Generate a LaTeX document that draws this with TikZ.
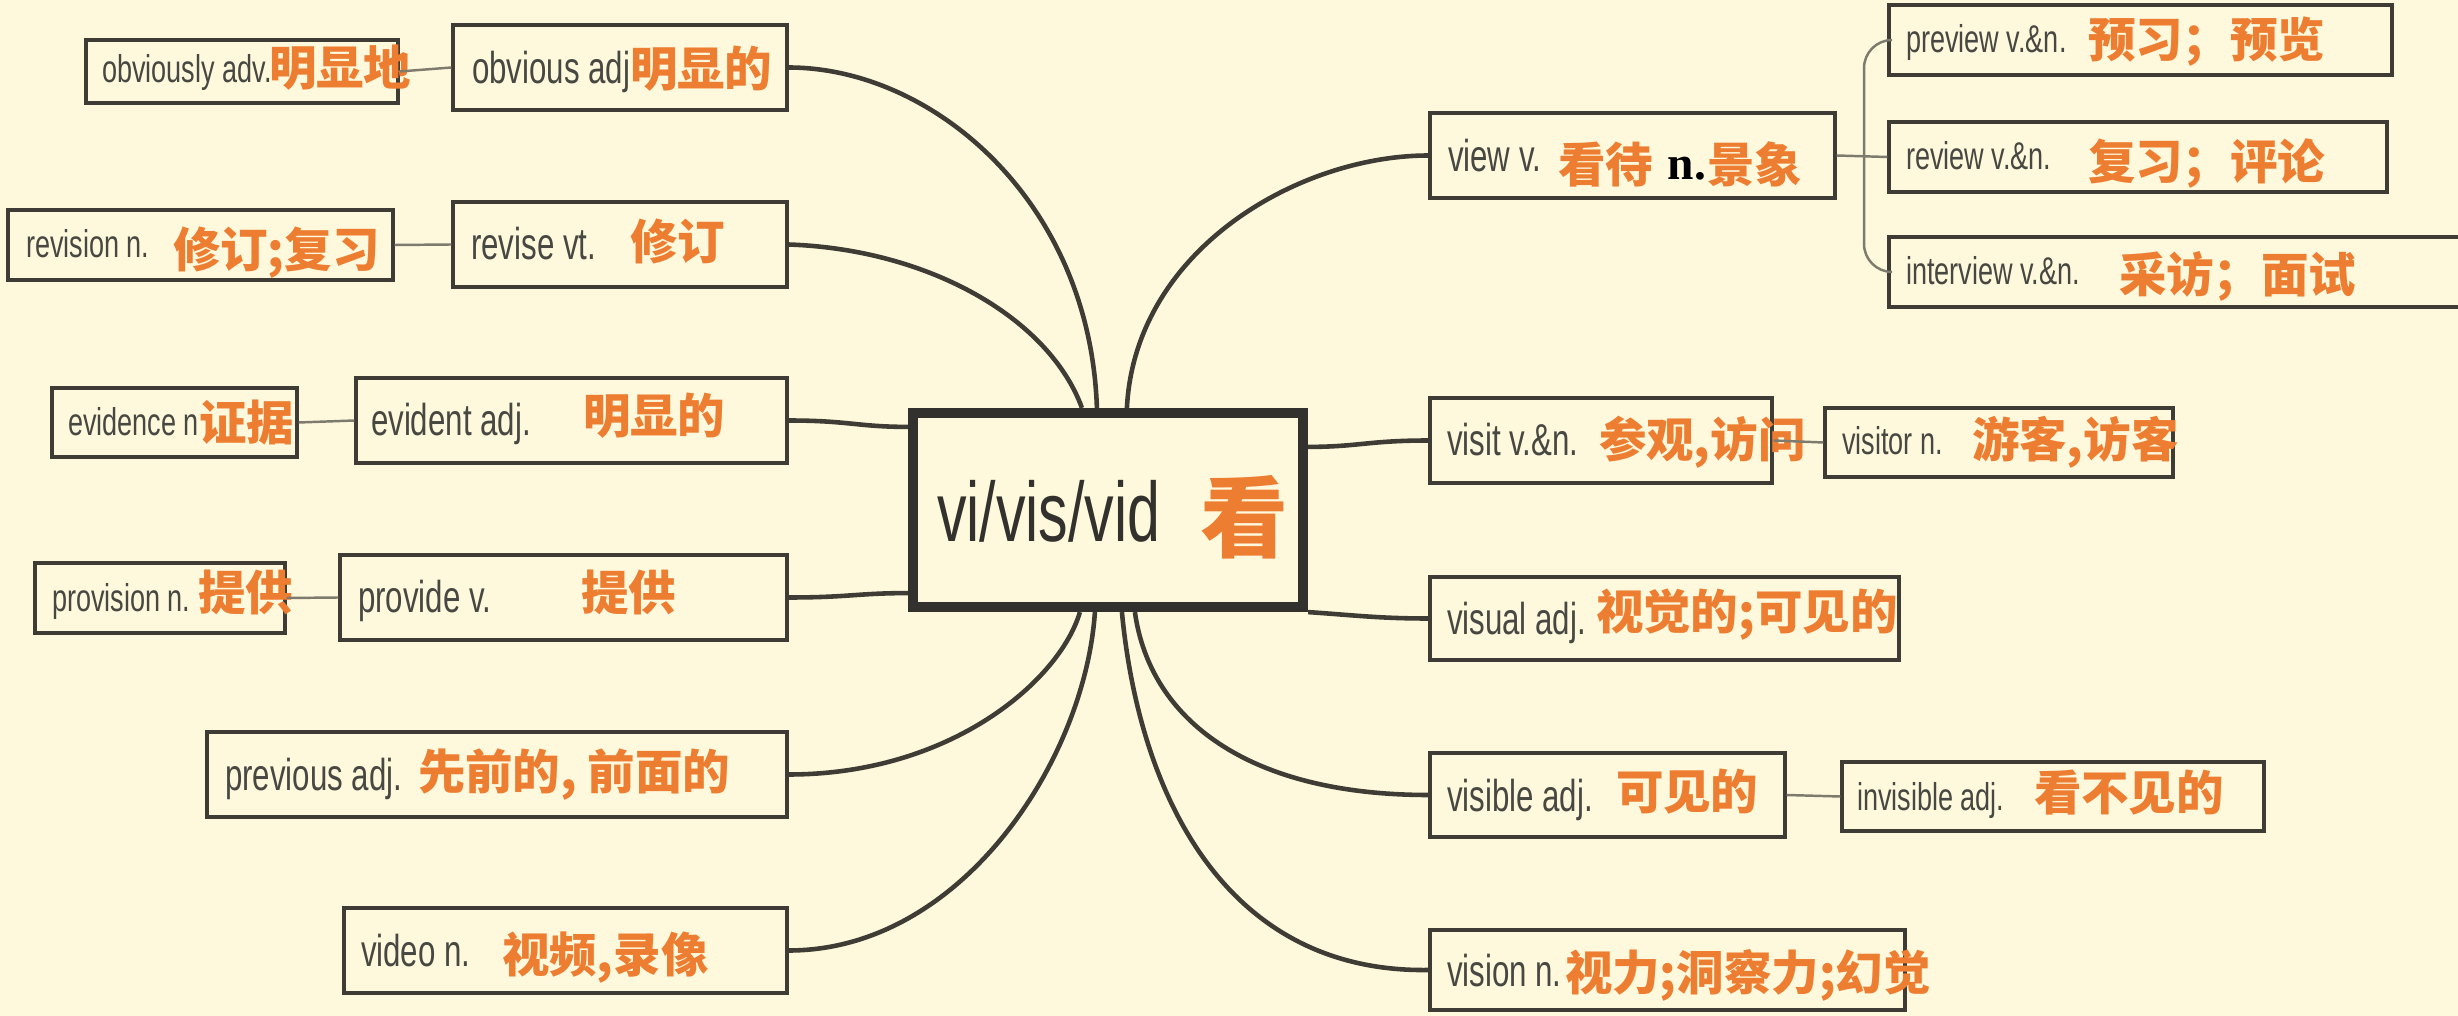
\documentclass[tikz,border=0pt]{standalone}
\usepackage{fontspec}
\newfontfamily\en[FakeStretch=0.7]{Liberation Sans}
\newfontfamily\cjk{Noto Sans CJK SC}
\newfontfamily\ser{Liberation Serif}
\usetikzlibrary{fit,calc}
\definecolor{bgc}{RGB}{254,248,220}
\definecolor{ink}{RGB}{62,60,52}
\definecolor{cink}{RGB}{50,49,45}
\definecolor{txt}{RGB}{72,72,66}
\definecolor{org}{RGB}{237,125,49}
\definecolor{thin}{RGB}{125,123,110}
\begin{document}
\begin{tikzpicture}[x=0.01cm,y=-0.01cm,
  sbox/.style={draw=ink, line width=0.9pt, inner sep=0pt, rectangle},
  cbox/.style={draw=cink, line width=2.9pt, inner sep=0pt, rectangle},
  mainc/.style={draw=ink, line width=1.3pt},
  subc/.style={draw=thin, line width=0.7pt},
  en/.style={inner sep=0pt, outer sep=0pt, text=txt, font=\en\fontsize{12.7}{14}\selectfont, anchor=base west},
  ens/.style={en, font=\en\fontsize{11}{13}\selectfont},
  cj/.style={inner sep=0pt, outer sep=0pt, text=org, font=\cjk\bfseries\fontsize{13.5}{15}\selectfont, anchor=west},
]
\useasboundingbox (0,0) rectangle (2458,1016);
\fill[bgc] (0,0) rectangle (2458,1016);
\begin{scope}
\clip (0,0) rectangle (2458,1016);

% central box
\node[cbox, fit={(913,413) (1303,607)}] (c) {};
\node[en, font=\en\fontsize{24}{26}\selectfont, text=cink] (ct) at (937,542) {vi/vis/vid};
\node[cj, font=\cjk\bfseries\fontsize{25}{27}\selectfont] (ck) at (1200,517.5) {看};

% left boxes
\node[sbox, fit={(86,40) (398,103)}] (b1) {};
\node[ens] (b1e) at (102,83) {obviously adv.};
\node[cj] (b1c) at (269,68) {明显地};

\node[sbox, fit={(453,25) (787,110)}] (b2) {};
\node[en] (b2e) at (472,84) {obvious adj};
\node[cj] (b2c) at (630,68.5) {明显的};

\node[sbox, fit={(8,210) (393,280)}] (b3) {};
\node[ens] (b3e) at (26,258) {revision n.};
\node[cj] (b3c) at (173,253) {修订;复习};

\node[sbox, fit={(453,202) (787,287)}] (b4) {};
\node[en] (b4e) at (471,260) {revise vt.};
\node[cj] (b4c) at (630,241) {修订};

\node[sbox, fit={(52,388) (297,457)}] (b5) {};
\node[ens] (b5e) at (68,436) {evidence n};
\node[cj] (b5c) at (199,423) {证据};

\node[sbox, fit={(356,378) (787,463)}] (b6) {};
\node[en] (b6e) at (371,436) {evident adj.};
\node[cj] (b6c) at (583,416) {明显的};

\node[sbox, fit={(35,563) (285,633)}] (b7) {};
\node[ens] (b7e) at (52,612) {provision n.};
\node[cj] (b7c) at (198,592) {提供};

\node[sbox, fit={(340,555) (787,640)}] (b8) {};
\node[en] (b8e) at (358,613) {provide v.};
\node[cj] (b8c) at (581,592) {提供};

\node[sbox, fit={(207,732) (787,817)}] (b9) {};
\node[en] (b9e) at (225,790) {previous adj.};
\node[cj] (b9c) at (418,775) {先前的, 前面的};

\node[sbox, fit={(344,908) (787,993)}] (b10) {};
\node[en] (b10e) at (361,966) {video n.};
\node[cj] (b10c) at (502,958) {视频,录像};

% right boxes
\node[sbox, fit={(1430,113) (1835,198)}] (b11) {};
\node[en] (b11e) at (1448,172) {view v.};
\node[cj] (b11c) at (1558,164.5) {看待};
\node[inner sep=0pt, anchor=base west, font=\ser\bfseries\fontsize{13.5}{15}\selectfont, text=black] (b11n) at (1667,180) {n.};
\node[cj] (b11d) at (1707,164.5) {景象};

\node[sbox, fit={(1889,5) (2392,75)}] (b12) {};
\node[ens] (b12e) at (1906,53) {preview v.\&n.};
\node[cj] (b12c) at (2088,42) {预习；预览};

\node[sbox, fit={(1889,122) (2387,192)}] (b13) {};
\node[ens] (b13e) at (1906,170) {review v.\&n.};
\node[cj] (b13c) at (2088,164) {复习；评论};

\node[sbox, fit={(1889,237) (2475,307)}] (b14) {};
\node[ens] (b14e) at (1906,285) {interview v.\&n.};
\node[cj] (b14c) at (2119,276) {采访；面试};

\node[sbox, fit={(1430,398) (1772,483)}] (b15) {};
\node[en] (b15e) at (1447,456) {visit v.\&n.};
\node[cj] (b15c) at (1599,442) {参观,访问};

\node[sbox, fit={(1825,408) (2173,477)}] (b16) {};
\node[ens] (b16e) at (1842,455) {visitor n.};
\node[cj] (b16c) at (1972,442) {游客,访客};

\node[sbox, fit={(1430,577) (1899,660)}] (b17) {};
\node[en] (b17e) at (1447,634) {visual adj.};
\node[cj] (b17c) at (1596,615) {视觉的;可见的};

\node[sbox, fit={(1430,753) (1785,837)}] (b18) {};
\node[en] (b18e) at (1447,811) {visible adj.};
\node[cj] (b18c) at (1616,792) {可见的};

\node[sbox, fit={(1842,762) (2264,831)}] (b19) {};
\node[ens] (b19e) at (1857,810) {invisible adj.};
\node[cj] (b19c) at (2034,793) {看不见的};

\node[sbox, fit={(1430,930) (1905,1010)}] (b20) {};
\node[en] (b20e) at (1447,986) {vision n.};
\node[cj] (b20c) at (1565,975) {视力;洞察力;幻觉};

% connection points on the central box
\coordinate (t1) at ($(c.north west)+(189,0)$);
\coordinate (t2) at ($(c.north west)+(174,0)$);
\coordinate (t3) at ($(c.north west)+(219,0)$);
\coordinate (l1) at ($(c.north west)+(0,19)$);
\coordinate (l2) at ($(c.south west)+(0,-19)$);
\coordinate (u1) at ($(c.south west)+(172,0)$);
\coordinate (u2) at ($(c.south west)+(187,0)$);
\coordinate (u3) at ($(c.south west)+(227,0)$);
\coordinate (u4) at ($(c.south west)+(214,0)$);
\coordinate (r1) at ($(c.north east)+(0,39)$);
\coordinate (br) at (1864,155);

% main connectors
\draw[mainc] (b2.east) .. controls +(143,0) and +(-7,-208) .. (t1);
\draw[mainc] (b4.east) .. controls +(143,5) and +(-32,-88) .. (t2);
\draw[mainc] (b11.west) .. controls +(-130,0) and +(8,-158) .. (t3);
\draw[mainc] (b6.east) .. controls +(60,0) and +(-50,0) .. (l1);
\draw[mainc] (b8.east) .. controls +(60,0) and +(-50,0) .. (l2);
\draw[mainc] (b9.east) .. controls +(163,0) and +(-20,68) .. (u1);
\draw[mainc] (b10.east) .. controls +(173,0) and +(-10,148) .. (u2);
\draw[mainc] (r1) .. controls +(50,0) and +(-60,0) .. (b15.west);
\draw[mainc] (c.south east) .. controls +(45,3) and +(-50,0) .. (b17.west);
\draw[mainc] (u3) .. controls +(15,108) and +(-180,0) .. (b18.west);
\draw[mainc] (u4) .. controls +(18,188) and +(-200,3) .. (b20.west);

% secondary connectors
\draw[subc] (b2.west) -- (b1.east);
\draw[subc] (b4.west) -- (b3.east);
\draw[subc] (b6.west) -- (b5.east);
\draw[subc] (b8.west) -- (b7.east);
\draw[subc] (b15.east) -- (b16.west);
\draw[subc] (b18.east) -- (b19.west);
\draw[subc] (b11.east) -- (b13.west);
\draw[subc, rounded corners=8] (b12.west) -| (br) |- (b14.west);
\end{scope}
\end{tikzpicture}
\end{document}
